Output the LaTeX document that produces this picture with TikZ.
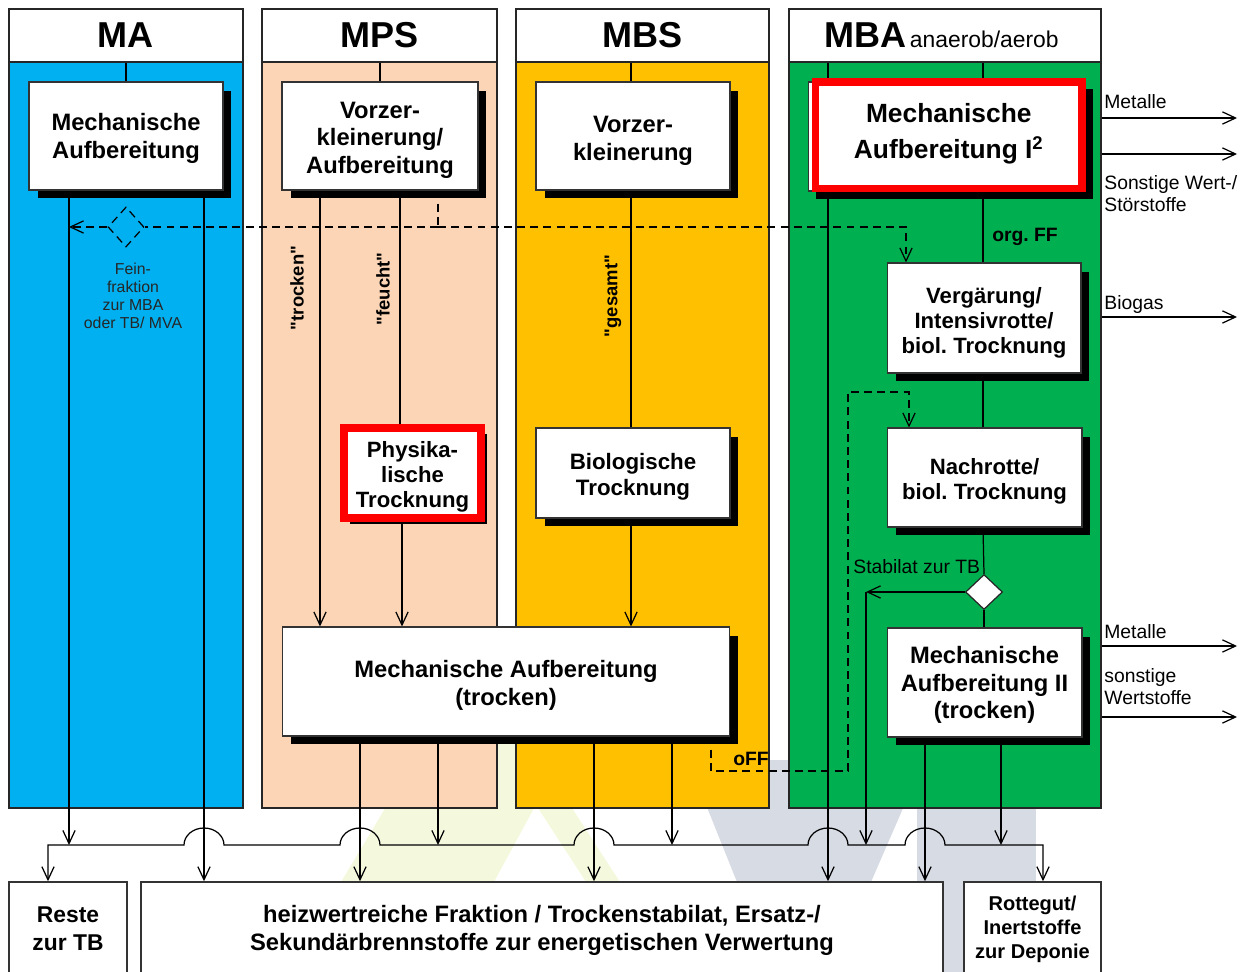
\documentclass[tikz,border=0pt]{standalone}
\usepackage{fontspec}
\setmainfont{Liberation Sans}[Ligatures=TeXOff]
\usetikzlibrary{arrows.meta,shapes.geometric,shadows}
\pgfdeclarelayer{back}
\pgfdeclarelayer{mid}
\pgfsetlayers{back,mid,main}
\definecolor{cMA}{RGB}{0,176,240}
\definecolor{cMPS}{RGB}{251,213,181}
\definecolor{cMBS}{RGB}{255,192,0}
\definecolor{cMBA}{RGB}{0,176,80}
\definecolor{wmY}{RGB}{244,249,222}
\definecolor{wmG}{RGB}{214,219,228}
\newcommand{\myfs}[2]{\fontsize{#1}{#2}\selectfont}
\newcommand{\dn}[1][1.0em]{\rule{0pt}{#1}}
\begin{document}
\frenchspacing
\begin{tikzpicture}[x=0.02cm,y=-0.02cm,
  line/.style={line width=0.7pt,draw=black},
  tip/.style={-{Straight Barb[length=7.5pt,width=7pt]}},
  arr/.style={line,tip},
  dsh/.style={line,dash pattern=on 4.5pt off 3pt},
  body/.style={draw=black!85,line width=0.9pt,inner sep=0},
  hdr/.style={draw=black!85,line width=0.9pt,fill=white,inner sep=0,minimum height=1.06cm,font=\myfs{20.5}{24}\bfseries},
  box/.style={draw=black!80,line width=0.6pt,fill=white,inner sep=0,align=center,
    general shadow={fill=black,shadow xshift=0.17cm,shadow yshift=-0.17cm}},
  endbox/.style={draw=black!80,line width=0.9pt,fill=white,inner sep=0,align=center},
  lab/.style={inner sep=0,font=\myfs{11}{12.5},align=left},
  blab/.style={inner sep=0,font=\myfs{10.5}{12}\bfseries},
]
\useasboundingbox (0,0) rectangle (1254,972);

\begin{pgfonlayer}{back}
% watermark
\fill[wmY] (426,740) -- (571,740) -- (494,882) -- (341,882) -- cycle;
\fill[wmY] (538,808) -- (572,808) -- (620,882) -- (586,882) -- cycle;
\fill[wmG] (688,760) -- (924,760) -- (871,882) -- (737,882) -- cycle;
\fill[wmG] (917,808) rectangle (1036,972);
% columns
\node[body,fill=cMA,minimum width=4.68cm,minimum height=14.92cm] (bMA) at (126,435) {};
\node[hdr,minimum width=4.68cm] (hMA) at (126,35.5) {MA};
\node[body,fill=cMPS,minimum width=4.7cm,minimum height=14.92cm] (bMPS) at (379.5,435) {};
\node[hdr,minimum width=4.7cm] (hMPS) at (379.5,35.5) {MPS};
\node[body,fill=cMBS,minimum width=5.06cm,minimum height=14.92cm] (bMBS) at (642.5,435) {};
\node[hdr,minimum width=5.06cm] (hMBS) at (642.5,35.5) {MBS};
\node[body,fill=cMBA,minimum width=6.24cm,minimum height=14.92cm] (bMBA) at (945,435) {};
\node[hdr,minimum width=6.24cm] (hMBA) at (945,35.5) {MBA\hspace{2pt}\myfs{13}{15}\mdseries anaerob/aerob\hspace*{4pt}};
\end{pgfonlayer}

% ---------- boxes ----------
\node[box,minimum width=3.88cm,minimum height=2.16cm,font=\myfs{13.5}{15.9}\bfseries] (mabox) at (126,136) {\dn[0.95em]Mechanische\\Aufbereitung};
\node[box,minimum width=3.92cm,minimum height=2.16cm,font=\myfs{13.5}{15.6}\bfseries] (mpsbox) at (380,136) {\dn[1.05em]Vorzer-\\kleinerung/\\Aufbereitung};
\node[box,minimum width=3.88cm,minimum height=2.16cm,font=\myfs{13.5}{15.6}\bfseries] (mbsbox) at (633,136) {\dn[1.1em]Vorzer-\\kleinerung};

\fill[black] (816,89) rectangle (1093,199);
\node[draw=black!80,line width=0.6pt,fill=white,minimum width=5.44cm,minimum height=2.18cm,inner sep=0] (m1bg) at (944,136.5) {};
\node[draw=red,line width=4pt,fill=white,minimum width=5.33cm,minimum height=2.13cm,inner sep=0,align=center,font=\myfs{15}{20.5}\bfseries] (mech1) at (948.75,135.25) {Mechanische\\Aufbereitung I\textsuperscript{2}\rule[-5pt]{0pt}{1pt}};

\node[draw=red,line width=4.5pt,fill=white,minimum width=2.74cm,minimum height=1.8cm,inner sep=0,align=center,font=\myfs{12.6}{14.2}\bfseries,
  general shadow={fill=black,shadow xshift=0.12cm,shadow yshift=-0.12cm}] (phys) at (412.5,473) {\dn[1.05em]Physika-\\lische\\Trocknung};
\node[box,minimum width=3.88cm,minimum height=1.8cm,font=\myfs{12.7}{14.8}\bfseries] (bio) at (633,473) {\dn[1.08em]Biologische\\Trocknung};
\node[box,minimum width=8.96cm,minimum height=2.18cm,font=\myfs{13.5}{15.9}\bfseries] (mechT) at (506,681.5) {\dn[1.02em]Mechanische Aufbereitung\\(trocken)};
\node[box,minimum width=3.88cm,minimum height=2.2cm,font=\myfs{12.6}{14.2}\bfseries] (verg) at (984,318) {\dn[1.18em]Vergärung/\\Intensivrotte/\\biol. Trocknung};
\node[box,minimum width=3.9cm,minimum height=1.98cm,font=\myfs{12.6}{14.2}\bfseries] (nach) at (984.5,477.5) {\dn[1.1em]Nachrotte/\\biol. Trocknung};
\node[box,minimum width=3.9cm,minimum height=2.18cm,font=\myfs{13.5}{15.6}\bfseries] (mech2) at (984.5,682.5) {\dn[0.95em]Mechanische\\Aufbereitung II\\(trocken)};
\node[diamond,draw=black!85,line width=0.7pt,fill=white,inner sep=0,minimum width=0.74cm,minimum height=0.7cm] (stab) at (984,592) {};
\node[diamond,dsh,inner sep=0,minimum width=0.72cm,minimum height=0.8cm] (dia1) at (126,227) {};

\node[endbox,minimum width=2.36cm,minimum height=1.88cm,font=\myfs{13}{16}\bfseries] (reste) at (68,929) {Reste\\zur TB};
\node[endbox,minimum width=16.04cm,minimum height=1.88cm,font=\myfs{13.5}{15.9}\bfseries] (heiz) at (542,929) {\dn[0.85em]heizwertreiche Fraktion / Trockenstabilat, Ersatz-/\\Sekundärbrennstoffe zur energetischen Verwertung};
\node[endbox,minimum width=2.74cm,minimum height=1.88cm,font=\myfs{11.4}{13.7}\bfseries] (rott) at (1032.5,929) {Rottegut/\\Inertstoffe\\zur Deponie};

% ---------- labels ----------
\node[font=\myfs{9}{10.2},align=center,text=black!85,inner sep=0] (lfein) at (133,296) {Fein-\\fraktion\\zur MBA\\oder TB/ MVA};
\node[blab,rotate=90] (ltr) at (297,288) {"trocken"};
\node[blab,rotate=90] (lfe) at (383,289) {"feucht"};
\node[blab,rotate=90] (lge) at (613,296) {"gesamt"};
\node[blab,font=\myfs{11}{13}\bfseries] (lorg) at (1025,237) {org. FF};
\node[blab,font=\myfs{11}{13}\bfseries] (loff) at (751,759) {oFF};
\node[lab,anchor=west] (lstab) at (853,567) {Stabilat zur TB};
\node[lab,anchor=west] (lmet1) at (1104,102) {Metalle};
\node[lab,anchor=west] (lson1) at (1104,194) {Sonstige Wert-/\\Störstoffe};
\node[lab,anchor=west] (lbio) at (1104,305) {Biogas};
\node[lab,anchor=west] (lmet2) at (1104,632) {Metalle};
\node[lab,anchor=west] (lson2) at (1104,687) {sonstige\\Wertstoffe};

\coordinate (bus) at (0,845);
\coordinate (o1) at (1237,118);
\coordinate (o2) at (1237,154);
\coordinate (o3) at (1237,317);
\coordinate (o4) at (1237,646);
\coordinate (o5) at (1237,717);
\coordinate (sl) at (866,592);

% ---------- connectors ----------
\begin{pgfonlayer}{mid}
\draw[line] (hMA.south) -- (mabox.north);
\draw[line] (hMPS.south -| mpsbox.north) -- (mpsbox.north);
\draw[line] (hMBS.south -| 631,0) -- (mbsbox.north -| 631,0);
\draw[arr] (hMBA.south -| 828,0) -- (heiz.north -| 828,0);
\draw[line] (hMBA.south -| 983,0) -- (verg.north -| 983,0);
\draw[line] (verg.south -| 983,0) -- (nach.north -| 983,0);
\draw[line] (nach.south -| 983,0) -- (stab.north);
\draw[line] (stab.south) -- (mech2.north -| stab.south);
\draw[arr] (stab.west) -- (sl);
\draw[arr] (sl) -- (sl |- bus);

\draw[arr] (mabox.south -| 69,0) -- (69,0 |- bus);
\draw[arr] (mabox.south -| 204,0) -- (heiz.north -| 204,0);
\draw[arr] (mpsbox.south -| 320,0) -- (mechT.north -| 320,0);
\draw[line] (mpsbox.south -| 400,0) -- (phys.north -| 400,0);
\draw[arr] (phys.south -| 402,0) -- (mechT.north -| 402,0);
\draw[line] (mbsbox.south -| 631,0) -- (bio.north -| 631,0);
\draw[arr] (bio.south -| 631,0) -- (mechT.north -| 631,0);
\draw[arr] (mechT.south -| 360,0) -- (heiz.north -| 360,0);
\draw[arr] (mechT.south -| 438,0) -- (438,0 |- bus);
\draw[arr] (mechT.south -| 594,0) -- (heiz.north -| 594,0);
\draw[arr] (mechT.south -| 672,0) -- (672,0 |- bus);
\draw[arr] (mech2.south -| 925,0) -- (heiz.north -| 925,0);
\draw[arr] (mech2.south -| 1001,0) -- (1001,0 |- bus);

\draw[line,{Straight Barb[length=7.5pt,width=7pt]}-{Straight Barb[length=7.5pt,width=7pt]}]
  (reste.north -| 48,0) -- (48,0 |- bus) -- (184,845)
  arc[start angle=180,end angle=0,x radius=0.4cm,y radius=0.34cm] -- (340,845)
  arc[start angle=180,end angle=0,x radius=0.4cm,y radius=0.34cm] -- (574,845)
  arc[start angle=180,end angle=0,x radius=0.4cm,y radius=0.34cm] -- (808,845)
  arc[start angle=180,end angle=0,x radius=0.4cm,y radius=0.34cm] -- (905,845)
  arc[start angle=180,end angle=0,x radius=0.4cm,y radius=0.34cm] -- (1043,845)
  -- (rott.north -| 1043,0);

\draw[arr] (bMBA.east |- o1) -- (o1);
\draw[arr] (bMBA.east |- o2) -- (o2);
\draw[arr] (bMBA.east |- o3) -- (o3);
\draw[arr] (bMBA.east |- o4) -- (o4);
\draw[arr] (bMBA.east |- o5) -- (o5);

% dashed flows
\draw[dsh] (mpsbox.south -| 438,0) -- (438,227) coordinate (dj);
\draw[dsh] (dj) -- (dia1.east);
\draw[dsh,tip] (dia1.west) -- (dia1.west -| 69,0);
\draw[dsh,tip] (dj) -| (verg.north -| 906,0);
\draw[dsh,tip] (mechT.south -| 711,0) |- (848,771) |- (909,392) -- (nach.north -| 909,0);
\end{pgfonlayer}
\end{tikzpicture}
\end{document}
